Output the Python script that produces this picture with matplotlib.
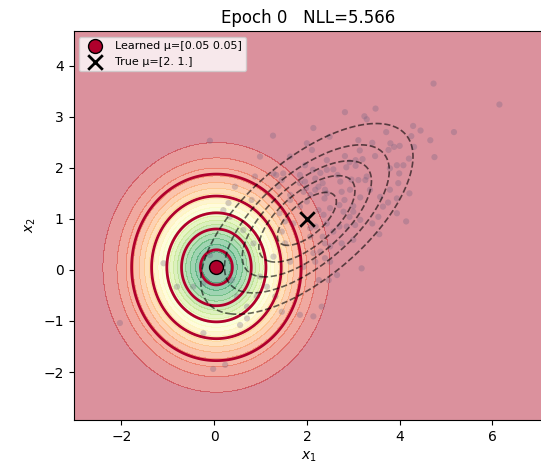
import numpy as np
import matplotlib
matplotlib.use("Agg")
import matplotlib.pyplot as plt

# model state at this epoch
epoch = 0
nll = 5.566
learned_mu = np.array([0.05, 0.05])
learned_cov = np.array([[1.0, 0.0], [0.0, 1.0]])
true_mu = np.array([2.0, 1.0])
true_cov = np.array([[1.5, 0.8], [0.8, 1.0]])

# samples
xs = [4.73, 6.15, 3.48, 2.82, 3.24, 3.29, 2.14, 4.29, 4.45, 5.17, 3.71, 1.27, 4.25, 4.66,
      3.11, 3.41, 3.80, 3.88, 4.31, 4.00, 3.14, 3.76, 4.75, 2.82, 3.47, 3.20, 3.05, 2.92,
      4.20, 3.94, 4.08, 3.79, 2.85, 3.05, 2.57, 2.43, 2.29, 2.13, 3.29, 3.99, 2.66, 2.96,
      3.11, 2.72, 3.97, 3.36, 4.21, 2.34, 1.98, 2.18, 2.93, 3.15, 3.94, 2.81, 3.64, 3.75,
      2.70, 3.00, 2.38, 2.50, 3.54, 4.14, 3.41, 2.92, 3.15, 2.86, 3.56, 2.57, 3.00, 2.75,
      2.50, 2.34, 2.19, 2.43, 2.70, 3.18, 2.65, 2.47, 2.26, 2.39, 2.14, 2.50, 1.64, 1.93,
      1.53, 1.46, 1.71, 1.41, 1.85, 1.64, 1.39, 2.07, 2.39, 1.34, 0.99, 1.49, 1.85, 1.96,
      2.43, 2.11, 1.64, 0.88,
      -2.03, -0.02, 0.24, -0.23, -1.09, -0.80, 0.56, 0.71, 1.46, 1.85, 2.14, 2.32, -0.09,
      0.45, 1.28, 1.85, 2.18, 1.53, 2.07, 1.28, 0.85, 0.63, 0.31, 0.20, 0.34, -0.09, -0.23,
      -0.45, 0.38, 0.99, 1.14, 1.32, 0.92, 0.49, 0.71,
      2.00, 0.81, 1.46, 1.93, 1.64, 2.00,
      2.36, 2.79, 3.04, 2.39, 2.29, 2.18, 2.07,
      2.49, 3.26, 1.96, 3.58, 2.43, 2.75, 2.25, 3.79, 3.00, 2.25, 3.94]
ys = [3.65, 3.24, 3.16, 3.09, 3.01, 2.95, 2.78, 2.82, 2.73, 2.70, 2.70, 2.63, 2.62, 2.54,
      2.54, 2.49, 2.48, 2.41, 2.41, 2.43, 2.34, 2.35, 2.21, 2.23, 2.23, 2.17, 2.15, 2.11,
      2.18, 2.05, 2.05, 1.99, 2.01, 2.04, 1.97, 1.96, 1.90, 1.96, 1.83, 1.89, 1.86, 1.77,
      1.76, 1.73, 1.70, 1.57, 1.50, 1.70, 1.60, 1.79, 1.57, 1.42, 1.40, 1.37, 1.24, 1.32,
      1.27, 1.25, 1.40, 1.21, 1.04, 0.95, 0.91, 1.04, 0.98, 0.85, 0.70, 0.75, 0.59, 0.52,
      0.46, 0.65, 0.85, 0.91, 0.85, 0.03, -0.10, -0.20, -0.20, 0.23, 0.33, 0.16, 0.16, 0.06,
      0.52, 0.75, 0.91, 1.11, 1.24, 1.47, 1.64, 1.47, 1.57, 1.86, 2.22, 1.89, 1.86, 2.05,
      2.15, 2.35, 2.22, 1.83,
      -1.04, -1.94, -1.86, -1.24, 0.13, -0.33, -1.08, -0.95, -0.82, -0.88, -0.91, -0.72, 2.53,
      1.63, 1.89, 1.70, 1.57, 0.95, 0.82, 0.26, 0.52, 0.78, 1.31, 1.17, 1.04, 0.29, -0.26,
      -0.33, -0.20, -0.13, -0.33, -0.52, -0.52, -0.52, -0.72,
      2.48, 1.37, 1.76, 1.53, 1.37, 1.34,
      1.08, 1.14, 0.88, 0.52, 0.36, 0.16, 0.65,
      2.61, 1.76, 1.73, 1.43, 1.50, 1.53, 1.63, 1.57, 1.14, 1.17, 1.11]


def gauss_pdf(X, Y, mu, cov):
    inv = np.linalg.inv(cov)
    dx = X - mu[0]
    dy = Y - mu[1]
    m = inv[0, 0] * dx * dx + 2 * inv[0, 1] * dx * dy + inv[1, 1] * dy * dy
    return np.exp(-0.5 * m) / (2 * np.pi * np.sqrt(np.linalg.det(cov)))


xlim = (-3.03, 7.1)
ylim = (-2.94, 4.68)
gx, gy = np.meshgrid(np.linspace(*xlim, 400), np.linspace(*ylim, 400))
z_learned = gauss_pdf(gx, gy, learned_mu, learned_cov)
z_true = gauss_pdf(gx, gy, true_mu, true_cov)
line_levels = [0.03, 0.06, 0.09, 0.12, 0.15]

fig = plt.figure(figsize=(5.41, 4.63), dpi=100)
ax = fig.add_axes([73.5 / 541, 43 / 463, 470 / 541, 389 / 463])

ax.contourf(gx, gy, z_learned, levels=20, cmap="RdYlGn", alpha=0.45)
ax.scatter(xs, ys, s=20, color="#6e6080", alpha=0.3, edgecolors="none", zorder=1.5)
ax.contour(gx, gy, z_learned, levels=line_levels, colors="#b0002c", linewidths=2, zorder=2)
ax.contour(gx, gy, z_true, levels=line_levels, colors="k", alpha=0.6,
           linestyles="--", linewidths=1.2, zorder=2)

ax.scatter([learned_mu[0]], [learned_mu[1]], s=100, color="#b0002c", edgecolors="k",
           linewidths=1, zorder=5, label=f"Learned μ={np.round(learned_mu, 2)}")
ax.scatter([true_mu[0]], [true_mu[1]], s=110, marker="x", color="k", linewidths=2,
           zorder=5, label=f"True μ={true_mu}")

ax.set_xlim(*xlim)
ax.set_ylim(*ylim)
ax.set_xlabel("$x_1$")
ax.set_ylabel("$x_2$")
ax.set_title(f"Epoch {epoch}   NLL={nll:.3f}")
ax.legend(loc="upper left", fontsize=8)

fig.savefig("out.png", dpi=100)
